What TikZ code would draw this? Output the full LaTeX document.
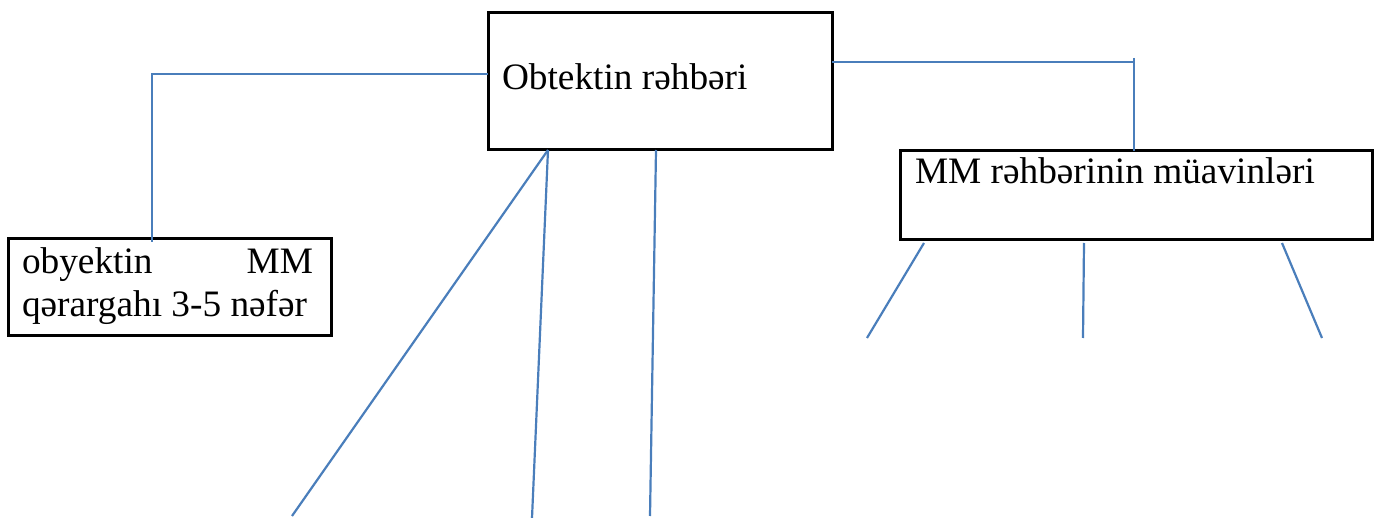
\documentclass[tikz,border=0pt]{standalone}
\usepackage{fontspec}
\setmainfont{Liberation Serif}
\usetikzlibrary{calc}
\definecolor{connblue}{HTML}{4A7EBB}
\begin{document}
\begin{tikzpicture}[x=1pt,y=-1pt,
  box/.style={draw=black, line width=3pt, rectangle, inner sep=0pt, outer sep=0pt, anchor=north west},
  conn/.style={draw=connblue, line width=2.2pt},
  lbl/.style={inner sep=0pt, outer sep=0pt, font=\fontsize{37.3pt}{43pt}\selectfont}]
\useasboundingbox (0,0) rectangle (1382,518);
% boxes
\node[box, minimum width=344pt, minimum height=137pt] (top) at (488,13) {};
\node[box, minimum width=323pt, minimum height=97pt] (lbox) at (8,239) {};
\node[box, minimum width=472pt, minimum height=89pt] (rbox) at (900,151) {};
% texts
\node[lbl, anchor=base west] (ttop) at (502,90) {Obtektin rəhbəri};
\node[lbl, anchor=base west, text width=291pt, align=flush left] (tl) at (22,274) {obyektin\hfill MM\\qərargahı 3-5 nəfər};
\node[lbl, anchor=base west] (tr) at (915,184) {MM rəhbərinin müavinləri};
% free ends
\coordinate (e1) at (292,516);
\coordinate (e2) at (532,518);
\coordinate (e3) at (650,516);
\coordinate (f1) at (867,338);
\coordinate (f2) at (1083,338);
\coordinate (f3) at (1322,338);
\coordinate (tick) at (1134,58);
% connectors
\draw[conn] (top.west |- 0,74) -| ([yshift=-3pt]lbox.north -| 152,0);
\draw[conn] (top.east |- 0,62) -- (tick |- 0,62);
\draw[conn] (tick) -- (rbox.north -| tick);
\draw[conn] (top.south -| 548,0) -- (e1);
\draw[conn] (top.south -| 548,0) -- (e2);
\draw[conn] (top.south -| 656,0) -- (e3);
\draw[conn] ([yshift=-3pt]rbox.south -| 924,0) -- (f1);
\draw[conn] ([yshift=-3pt]rbox.south -| 1084,0) -- (f2);
\draw[conn] ([yshift=-3pt]rbox.south -| 1282,0) -- (f3);
\end{tikzpicture}
\end{document}
